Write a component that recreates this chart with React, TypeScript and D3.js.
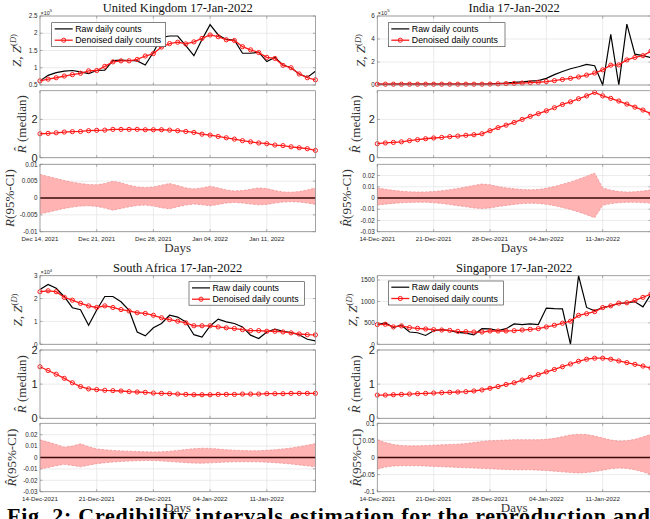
import React from 'react';
import * as d3 from 'd3';

const START = new Date(2021, 11, 14);
const END = new Date(2022, 0, 17);
const dates: Date[] = d3.timeDay.range(START, d3.timeDay.offset(END, 1));
const weekTicks: Date[] = [
  new Date(2021, 11, 14), new Date(2021, 11, 21), new Date(2021, 11, 28),
  new Date(2022, 0, 4), new Date(2022, 0, 11),
];

// ---------------- United Kingdom (x10^5) ----------------
const ukRaw = [0.62, 0.78, 0.86, 0.90, 0.92, 0.88, 0.83, 0.92, 0.93, 1.21, 1.22, 1.21, 1.20, 1.08, 1.45, 1.88, 1.92, 1.92, 1.64, 1.35, 1.82, 2.25, 1.95, 1.82, 1.80, 1.42, 1.42, 1.45, 1.18, 1.30, 1.08, 1.00, 0.82, 0.72, 0.90];
const ukDen = [0.62, 0.67, 0.71, 0.76, 0.80, 0.84, 0.91, 0.92, 1.04, 1.17, 1.20, 1.20, 1.24, 1.34, 1.41, 1.60, 1.70, 1.74, 1.69, 1.75, 1.85, 1.95, 1.90, 1.81, 1.79, 1.61, 1.52, 1.44, 1.30, 1.27, 1.07, 1.00, 0.82, 0.71, 0.65];
const ukR = [1.25, 1.27, 1.30, 1.34, 1.36, 1.37, 1.41, 1.43, 1.44, 1.48, 1.48, 1.48, 1.48, 1.46, 1.46, 1.46, 1.44, 1.41, 1.37, 1.32, 1.23, 1.18, 1.11, 1.04, 0.97, 0.89, 0.83, 0.77, 0.73, 0.66, 0.63, 0.57, 0.52, 0.47, 0.38];
const ukUp = [0.0070, 0.0064, 0.0058, 0.0052, 0.0047, 0.0043, 0.0040, 0.0039, 0.0043, 0.0050, 0.0045, 0.0038, 0.0033, 0.0031, 0.0033, 0.0038, 0.0043, 0.0037, 0.0030, 0.0027, 0.0030, 0.0035, 0.0030, 0.0024, 0.0021, 0.0022, 0.0026, 0.0030, 0.0028, 0.0022, 0.0018, 0.0017, 0.0019, 0.0024, 0.0030];
const ukLo = [-0.0047, -0.0042, -0.0036, -0.0031, -0.0027, -0.0024, -0.0023, -0.0025, -0.0030, -0.0036, -0.0031, -0.0026, -0.0022, -0.0021, -0.0024, -0.0029, -0.0032, -0.0026, -0.0021, -0.0018, -0.0020, -0.0023, -0.0019, -0.0015, -0.0013, -0.0015, -0.0018, -0.0020, -0.0019, -0.0015, -0.0012, -0.0011, -0.0012, -0.0015, -0.0019];

// ---------------- India (x10^5) ----------------
const inRaw = [0.07, 0.06, 0.07, 0.07, 0.07, 0.07, 0.07, 0.07, 0.07, 0.07, 0.07, 0.08, 0.07, 0.08, 0.09, 0.13, 0.17, 0.22, 0.27, 0.33, 0.38, 0.58, 0.90, 1.17, 1.41, 1.59, 1.79, 1.68, 0.0, 4.40, 0.0, 5.30, 2.68, 2.55, 2.38];
const inDen = [0.07, 0.07, 0.07, 0.07, 0.07, 0.07, 0.07, 0.07, 0.07, 0.07, 0.07, 0.07, 0.07, 0.07, 0.08, 0.10, 0.12, 0.14, 0.17, 0.20, 0.24, 0.30, 0.38, 0.48, 0.58, 0.70, 0.86, 1.04, 1.32, 1.72, 1.75, 2.18, 2.40, 2.55, 2.95];
const inR = [0.73, 0.77, 0.80, 0.83, 0.89, 0.94, 0.99, 1.03, 1.06, 1.10, 1.13, 1.17, 1.20, 1.25, 1.41, 1.57, 1.70, 1.84, 2.00, 2.16, 2.30, 2.45, 2.61, 2.78, 2.92, 3.08, 3.23, 3.41, 3.23, 3.10, 2.96, 2.80, 2.64, 2.49, 2.30];
const inUp = [0.0088, 0.0078, 0.0068, 0.0060, 0.0055, 0.0053, 0.0054, 0.0058, 0.0065, 0.0074, 0.0085, 0.0098, 0.0112, 0.0124, 0.0118, 0.0102, 0.0090, 0.0082, 0.0076, 0.0073, 0.0076, 0.0086, 0.0102, 0.0122, 0.0143, 0.0167, 0.0194, 0.0222, 0.0090, 0.0070, 0.0058, 0.0053, 0.0055, 0.0062, 0.0072];
const inLo = [-0.0062, -0.0055, -0.0048, -0.0043, -0.0039, -0.0037, -0.0038, -0.0042, -0.0049, -0.0058, -0.0068, -0.0078, -0.0088, -0.0094, -0.0088, -0.0076, -0.0066, -0.0057, -0.0050, -0.0046, -0.0048, -0.0056, -0.0068, -0.0084, -0.0102, -0.0124, -0.0148, -0.0176, -0.0065, -0.0050, -0.0042, -0.0038, -0.0038, -0.0041, -0.0046];

// ---------------- South Africa (x10^4) ----------------
const saRaw = [2.40, 2.62, 2.45, 2.08, 1.60, 1.51, 0.83, 1.50, 2.09, 2.09, 1.86, 1.49, 0.54, 0.37, 0.72, 0.91, 1.27, 1.19, 0.98, 0.42, 0.32, 0.80, 1.10, 0.98, 0.91, 0.76, 0.40, 0.25, 0.54, 0.66, 0.57, 0.51, 0.42, 0.22, 0.15];
const saDen = [2.30, 2.34, 2.30, 2.05, 1.93, 1.79, 1.68, 1.61, 1.68, 1.61, 1.52, 1.46, 1.38, 1.35, 1.27, 1.16, 1.08, 1.01, 0.94, 0.81, 0.81, 0.81, 0.76, 0.72, 0.69, 0.64, 0.60, 0.60, 0.57, 0.57, 0.54, 0.50, 0.45, 0.42, 0.41];
const saR = [1.51, 1.40, 1.29, 1.17, 1.04, 0.93, 0.86, 0.84, 0.82, 0.81, 0.80, 0.78, 0.77, 0.76, 0.74, 0.73, 0.72, 0.71, 0.70, 0.69, 0.69, 0.69, 0.70, 0.70, 0.70, 0.71, 0.71, 0.71, 0.72, 0.72, 0.72, 0.73, 0.73, 0.73, 0.73];
const saUp = [0.0155, 0.0135, 0.0115, 0.0090, 0.0100, 0.0120, 0.0095, 0.0075, 0.0068, 0.0062, 0.0058, 0.0055, 0.0052, 0.0050, 0.0048, 0.0050, 0.0055, 0.0062, 0.0070, 0.0077, 0.0081, 0.0080, 0.0074, 0.0068, 0.0064, 0.0061, 0.0060, 0.0060, 0.0063, 0.0068, 0.0075, 0.0083, 0.0095, 0.0108, 0.0122];
const saLo = [-0.0100, -0.0088, -0.0072, -0.0060, -0.0070, -0.0082, -0.0068, -0.0054, -0.0046, -0.0040, -0.0035, -0.0031, -0.0028, -0.0026, -0.0026, -0.0030, -0.0035, -0.0040, -0.0045, -0.0049, -0.0050, -0.0047, -0.0043, -0.0040, -0.0038, -0.0037, -0.0037, -0.0038, -0.0041, -0.0045, -0.0051, -0.0057, -0.0065, -0.0073, -0.0082];

// ---------------- Singapore ----------------
const sgRaw = [460, 500, 397, 444, 286, 270, 206, 317, 341, 317, 278, 262, 222, 365, 360, 320, 365, 476, 460, 476, 460, 845, 830, 825, 0, 1600, 860, 780, 857, 897, 952, 968, 992, 873, 1175];
const sgDen = [460, 468, 405, 429, 389, 373, 357, 341, 333, 325, 302, 294, 286, 286, 310, 310, 310, 317, 333, 349, 365, 405, 444, 492, 540, 675, 714, 762, 857, 897, 960, 968, 1024, 1095, 1175];
const sgR = [0.68, 0.68, 0.69, 0.70, 0.71, 0.72, 0.73, 0.74, 0.75, 0.76, 0.77, 0.78, 0.80, 0.83, 0.88, 0.93, 0.99, 1.04, 1.12, 1.20, 1.28, 1.36, 1.43, 1.51, 1.59, 1.67, 1.73, 1.76, 1.76, 1.73, 1.68, 1.63, 1.58, 1.53, 1.47];
const sgUp = [0.052, 0.044, 0.038, 0.035, 0.034, 0.034, 0.035, 0.036, 0.037, 0.038, 0.039, 0.041, 0.044, 0.047, 0.049, 0.050, 0.051, 0.052, 0.052, 0.052, 0.052, 0.053, 0.056, 0.061, 0.066, 0.068, 0.067, 0.063, 0.057, 0.051, 0.048, 0.049, 0.053, 0.060, 0.068];
const sgLo = [-0.034, -0.028, -0.025, -0.024, -0.024, -0.024, -0.025, -0.026, -0.027, -0.028, -0.029, -0.030, -0.031, -0.032, -0.033, -0.034, -0.035, -0.036, -0.036, -0.036, -0.037, -0.038, -0.040, -0.042, -0.044, -0.045, -0.044, -0.041, -0.037, -0.033, -0.031, -0.032, -0.036, -0.042, -0.050];

// ---------------- tick labels ----------------
const ukTopTicks = [0.5, 1, 1.5, 2, 2.5];
const ukTopLabels = ['0.5', '1', '1.5', '2', '2.5'];
const inTopTicks = [0, 2, 4, 6];
const inTopLabels = ['0', '2', '4', '6'];
const saTopTicks = [0, 1, 2, 3];
const saTopLabels = ['0', '1', '2', '3'];
const sgTopTicks = [0, 500, 1000, 1500];
const sgTopLabels = ['0', '500', '1000', '1500'];
const midTicksA = [0, 2];
const midLabelsA = ['0', '2'];
const midTicksB = [0, 1, 2];
const midLabelsB = ['0', '1', '2'];
const ukBotTicks = [-0.01, -0.005, 0, 0.005, 0.01];
const ukBotLabels = ['-0.01', '-0.005', '0', '0.005', '0.01'];
const ciTicks = [-0.03, -0.02, -0.01, 0, 0.01, 0.02];
const ciLabels = ['-0.03', '-0.02', '-0.01', '0', '0.01', '0.02'];
const sgBotTicks = [-0.1, -0.05, 0, 0.05, 0.1];
const sgBotLabels = ['-0.1', '-0.05', '0', '0.05', '0.1'];

const SANS = "'Liberation Sans', Arial, Helvetica, sans-serif";
const SERIF = "'Liberation Serif', 'Times New Roman', serif";
const RED = '#ff1a1a';
const AXC = '#8c8c8c';
const GRID = '#e3e3e3';
const TXT = '#262626';

type Row = [number, number];
interface Cfg {
  id: string; title: string; x0: number; x1: number; rows: [Row, Row, Row];
  raw: number[]; den: number[]; rMed: number[]; up: number[]; lo: number[];
  topDomain: [number, number]; topTicks: number[]; topLabels: string[]; exp: string | null;
  midDomain: [number, number]; midTicks: number[]; midLabels: string[];
  botDomain: [number, number]; botTicks: number[]; botLabels: string[];
  xFmt: (d: Date) => string; ciHat: boolean;
  legend: [number, number, number, number];
  ylabX: [number, number, number];
}

const ukFmt = d3.timeFormat('%b %d, %Y');
const dFmt = d3.timeFormat('%d-%b-%Y');

const rowsTopPanel: [Row, Row, Row] = [[16, 85], [90.7, 157.7], [164.3, 231.7]];
const rowsBotPanel: [Row, Row, Row] = [[275.7, 344.3], [350, 418.3], [423.3, 491.7]];

const panels: Cfg[] = [
  {
    id: 'uk', title: 'United Kingdom 17-Jan-2022', x0: 40, x1: 315.4, rows: rowsTopPanel,
    raw: ukRaw, den: ukDen, rMed: ukR, up: ukUp, lo: ukLo,
    topDomain: [0.5, 2.5], topTicks: ukTopTicks, topLabels: ukTopLabels, exp: '5',
    midDomain: [0, 3.5], midTicks: midTicksA, midLabels: midLabelsA,
    botDomain: [-0.01, 0.01], botTicks: ukBotTicks, botLabels: ukBotLabels,
    xFmt: ukFmt, ciHat: false, legend: [51.7, 22.7, 114, 24], ylabX: [20.5, 25.5, 13.5],
  },
  {
    id: 'in', title: 'India 17-Jan-2022', x0: 377.3, x1: 651, rows: rowsTopPanel,
    raw: inRaw, den: inDen, rMed: inR, up: inUp, lo: inLo,
    topDomain: [0, 6], topTicks: inTopTicks, topLabels: inTopLabels, exp: '5',
    midDomain: [0, 3.5], midTicks: midTicksA, midLabels: midLabelsA,
    botDomain: [-0.03, 0.03], botTicks: ciTicks, botLabels: ciLabels,
    xFmt: dFmt, ciHat: true, legend: [388.3, 22.7, 116.7, 24], ylabX: [365, 360, 351],
  },
  {
    id: 'sa', title: 'South Africa 17-Jan-2022', x0: 40, x1: 315.4, rows: rowsBotPanel,
    raw: saRaw, den: saDen, rMed: saR, up: saUp, lo: saLo,
    topDomain: [0, 3], topTicks: saTopTicks, topLabels: saTopLabels, exp: '4',
    midDomain: [0, 2], midTicks: midTicksB, midLabels: midLabelsB,
    botDomain: [-0.03, 0.03], botTicks: ciTicks, botLabels: ciLabels,
    xFmt: dFmt, ciHat: true, legend: [189, 281.7, 115.3, 23.5], ylabX: [21.5, 25.5, 16],
  },
  {
    id: 'sg', title: 'Singapore 17-Jan-2022', x0: 377.3, x1: 651, rows: rowsBotPanel,
    raw: sgRaw, den: sgDen, rMed: sgR, up: sgUp, lo: sgLo,
    topDomain: [0, 1600], topTicks: sgTopTicks, topLabels: sgTopLabels, exp: null,
    midDomain: [0, 2], midTicks: midTicksB, midLabels: midLabelsB,
    botDomain: [-0.1, 0.1], botTicks: sgBotTicks, botLabels: sgBotLabels,
    xFmt: dFmt, ciHat: true, legend: [388.3, 281, 115, 24], ylabX: [356.5, 359.5, 361],
  },
];

function AxisFrame({ x, y, x0, x1, y0, y1, ticks, labels, fs }: {
  x: d3.ScaleTime<number, number>; y: d3.ScaleLinear<number, number>;
  x0: number; x1: number; y0: number; y1: number; ticks: number[]; labels: string[]; fs: number;
}) {
  return (
    <g>
      {weekTicks.slice(1).map((t, i) => (
        <line key={'gx' + i} x1={x(t)} x2={x(t)} y1={y0} y2={y1} stroke={GRID} strokeWidth={0.7} />
      ))}
      {ticks.map((t, i) => (
        <line key={'gy' + i} x1={x0} x2={x1} y1={y(t)} y2={y(t)} stroke={GRID} strokeWidth={0.7} />
      ))}
      {weekTicks.map((t, i) => (
        <g key={'tx' + i}>
          <line x1={x(t)} x2={x(t)} y1={y1} y2={y1 - 2.5} stroke={AXC} strokeWidth={0.7} />
          <line x1={x(t)} x2={x(t)} y1={y0} y2={y0 + 2.5} stroke={AXC} strokeWidth={0.7} />
        </g>
      ))}
      {ticks.map((t, i) => (
        <g key={'ty' + i}>
          <line x1={x0} x2={x0 + 2.5} y1={y(t)} y2={y(t)} stroke={AXC} strokeWidth={0.7} />
          <line x1={x1} x2={x1 - 2.5} y1={y(t)} y2={y(t)} stroke={AXC} strokeWidth={0.7} />
          <text x={x0 - 2.5} y={y(t)} dy="0.35em" textAnchor="end" fontFamily={SANS} fontSize={fs} fill={TXT}>
            {labels[i]}
          </text>
        </g>
      ))}
    </g>
  );
}

function Box({ x0, x1, y0, y1 }: { x0: number; x1: number; y0: number; y1: number }) {
  return <rect x={x0} y={y0} width={x1 - x0} height={y1 - y0} fill="none" stroke={AXC} strokeWidth={0.8} />;
}

function Panel({ c }: { c: Cfg }) {
  const x = d3.scaleTime().domain([START, END]).range([c.x0, c.x1]);
  const [tr, mr, br] = c.rows;
  const yT = d3.scaleLinear().domain(c.topDomain).range([tr[1], tr[0]]);
  const yM = d3.scaleLinear().domain(c.midDomain).range([mr[1], mr[0]]);
  const yB = d3.scaleLinear().domain(c.botDomain).range([br[1], br[0]]);
  const xi = (_: number, i: number) => x(dates[i]);
  const rawPath = d3.line<number>().x(xi).y((d) => yT(d))(c.raw) || '';
  const denPath = d3.line<number>().x(xi).y((d) => yT(d))(c.den) || '';
  const rPath = d3.line<number>().x(xi).y((d) => yM(d))(c.rMed) || '';
  const bandPath = d3.area<number>().x(xi).y0((_, i) => yB(c.lo[i])).y1((d) => yB(d))(c.up) || '';
  const upPath = d3.line<number>().x(xi).y((d) => yB(d))(c.up) || '';
  const loPath = d3.line<number>().x(xi).y((d) => yB(d))(c.lo) || '';
  const cx = (c.x0 + c.x1) / 2;
  const [lx, ly, lw, lh] = c.legend;
  const clipId = 'clip-' + c.id;

  return (
    <g>
      <defs>
        <clipPath id={clipId}>
          <rect x={c.x0} y={tr[0] - 1} width={c.x1 - c.x0} height={tr[1] - tr[0] + 2} />
        </clipPath>
      </defs>
      <text x={cx} y={tr[0] - 4} textAnchor="middle" fontFamily={SERIF} fontSize={12.5} fill="#111">{c.title}</text>

      {/* top subplot */}
      <AxisFrame x={x} y={yT} x0={c.x0} x1={c.x1} y0={tr[0]} y1={tr[1]} ticks={c.topTicks} labels={c.topLabels} fs={6.3} />
      {c.exp && (
        <text x={c.x0 + 0.5} y={tr[0] - 1.5} fontFamily={SANS} fontSize={5.5} fill={TXT}>
          ×10<tspan dy={-2.2} fontSize={4.2}>{c.exp}</tspan>
        </text>
      )}
      <g clipPath={`url(#${clipId})`}>
        <path d={rawPath} fill="none" stroke="#000" strokeWidth={1.2} />
        <path d={denPath} fill="none" stroke={RED} strokeWidth={1.3} />
      </g>
      {c.den.map((d, i) => (
        <circle key={'dm' + i} cx={x(dates[i])} cy={yT(d)} r={2.1} fill="none" stroke={RED} strokeWidth={1} />
      ))}
      <Box x0={c.x0} x1={c.x1} y0={tr[0]} y1={tr[1]} />
      <text transform={`translate(${c.ylabX[0]},${(tr[0] + tr[1]) / 2}) rotate(-90)`} textAnchor="middle" fontFamily={SERIF} fontSize={13} fill="#333">
        <tspan fontStyle="italic">Z</tspan>, <tspan fontStyle="italic">Z</tspan>
        <tspan dy={-4.5} fontSize={8.5}>(<tspan fontStyle="italic">D</tspan>)</tspan>
      </text>
      <g>
        <rect x={lx} y={ly} width={lw} height={lh} fill="#fff" stroke="#333" strokeWidth={0.6} />
        <line x1={lx + 3} x2={lx + 21} y1={ly + 6.2} y2={ly + 6.2} stroke="#000" strokeWidth={1.2} />
        <text x={lx + 23.5} y={ly + 9.3} fontFamily={SANS} fontSize={8.8} fill="#000">Raw daily counts</text>
        <line x1={lx + 3} x2={lx + 21} y1={ly + 17.5} y2={ly + 17.5} stroke={RED} strokeWidth={1.3} />
        <circle cx={lx + 12} cy={ly + 17.5} r={2.1} fill="none" stroke={RED} strokeWidth={1} />
        <text x={lx + 23.5} y={ly + 20.6} fontFamily={SANS} fontSize={8.8} fill="#000">Denoised daily counts</text>
      </g>

      {/* middle subplot */}
      <AxisFrame x={x} y={yM} x0={c.x0} x1={c.x1} y0={mr[0]} y1={mr[1]} ticks={c.midTicks} labels={c.midLabels} fs={11} />
      <path d={rPath} fill="none" stroke={RED} strokeWidth={1.3} />
      {c.rMed.map((d, i) => (
        <circle key={'rm' + i} cx={x(dates[i])} cy={yM(d)} r={2.1} fill="none" stroke={RED} strokeWidth={1} />
      ))}
      <Box x0={c.x0} x1={c.x1} y0={mr[0]} y1={mr[1]} />
      <text transform={`translate(${c.ylabX[1]},${(mr[0] + mr[1]) / 2}) rotate(-90)`} textAnchor="middle" fontFamily={SERIF} fontSize={13} fill="#333">
        <tspan fontStyle="italic">{'R\u0302'}</tspan> (median)
      </text>

      {/* bottom subplot */}
      <AxisFrame x={x} y={yB} x0={c.x0} x1={c.x1} y0={br[0]} y1={br[1]} ticks={c.botTicks} labels={c.botLabels} fs={6.3} />
      <path d={bandPath} fill="#ffb3b3" stroke="none" />
      <path d={upPath} fill="none" stroke="#f08a8a" strokeWidth={0.7} strokeDasharray="2.5,1.5" />
      <path d={loPath} fill="none" stroke="#f08a8a" strokeWidth={0.7} strokeDasharray="2.5,1.5" />
      <line x1={c.x0} x2={c.x1} y1={yB(0)} y2={yB(0)} stroke="#3a0a0a" strokeWidth={1.4} />
      <Box x0={c.x0} x1={c.x1} y0={br[0]} y1={br[1]} />
      <text transform={`translate(${c.ylabX[2]},${(br[0] + br[1]) / 2}) rotate(-90)`} textAnchor="middle" fontFamily={SERIF} fontSize={13} fill="#333">
        <tspan fontStyle="italic">{c.ciHat ? 'R\u0302' : 'R'}</tspan>(95%-CI)
      </text>
      {weekTicks.map((t, i) => (
        <text key={'xl' + i} x={x(t)} y={br[1] + 9.5} textAnchor="middle" fontFamily={SANS} fontSize={6.2} fill={TXT}>
          {c.xFmt(t)}
        </text>
      ))}
      <text x={cx} y={br[1] + 19.8} textAnchor="middle" fontFamily={SERIF} fontSize={13} fill="#333">Days</text>
    </g>
  );
}

export default function App() {
  return (
    <svg width={650} height={519} viewBox="0 0 650 519" style={{ position: 'absolute', left: 0, top: 0, background: '#fff' }}>
      <rect x={0} y={0} width={650} height={519} fill="#fff" />
      {panels.map((c) => <Panel key={c.id} c={c} />)}
      <text x={7} y={523} fontFamily={SERIF} fontWeight="bold" fontSize={22} fill="#000" textLength={643} lengthAdjust="spacing">
        Fig. 2:  Credibility intervals estimation for the reproduction and
      </text>
    </svg>
  );
}
